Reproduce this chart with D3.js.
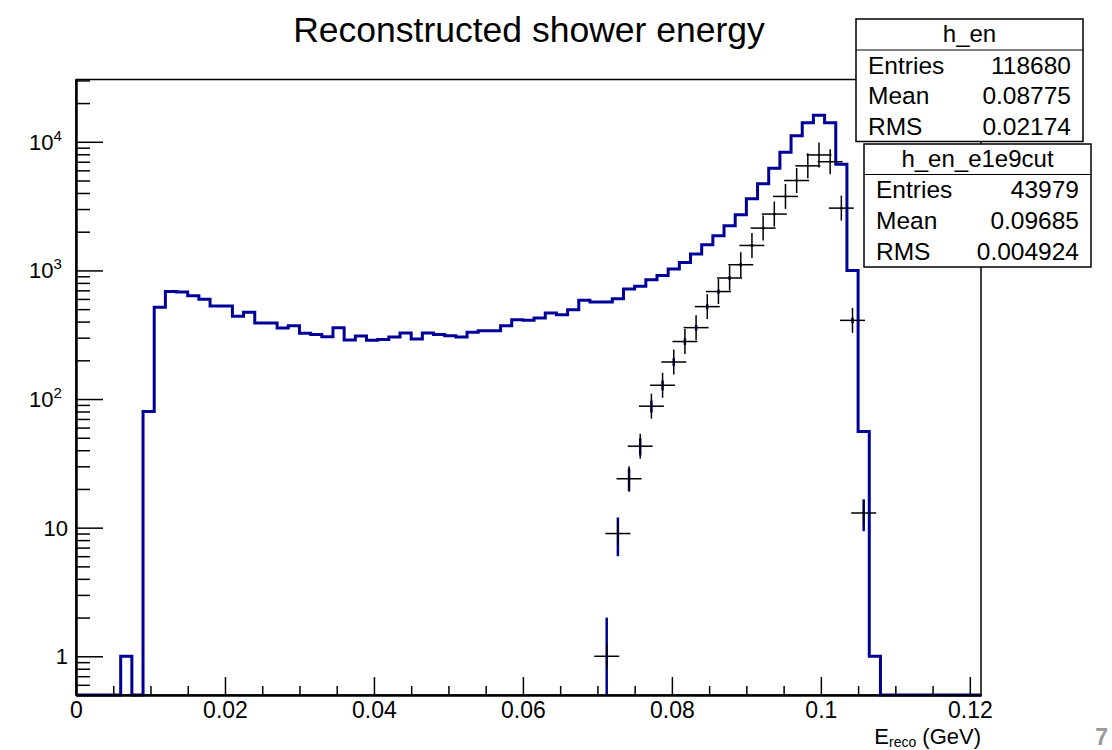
<!DOCTYPE html>
<html>
<head>
<meta charset="utf-8">
<title>Reconstructed shower energy</title>
<style type="text/css">
  body { margin: 0; background: #fff; }
  svg text { font-family: "Liberation Sans", Arial, Helvetica, sans-serif; }
</style>
</head>
<body>
<script src="https://cdn.jsdelivr.net/npm/d3@7/dist/d3.min.js"></script>
<script type="text/javascript">
  // histogram definition: 81 bins from 0 to 0.1215 GeV
  const binLo = 0;
  const binHi = 0.1215;

  // h_en, counts per bin
  const hEn = [
    0, 0, 0, 0, 1, 0, 80, 516, 685, 680,
    636, 596, 528, 528, 440, 472, 390, 390, 357, 372,
    325, 318, 305, 359, 288, 309, 286, 290, 304, 326,
    293, 326, 317, 311, 304, 330, 340, 340, 372, 414,
    410, 427, 467, 453, 495, 585, 568, 568, 603, 716,
    752, 847, 915, 1025, 1153, 1340, 1584, 1859, 2223, 2705,
    3602, 4714, 6237, 8288, 11130, 14050, 16100, 14050, 6700, 1000,
    56, 1, 0, 0, 0, 0, 0, 0, 0, 0,
    0
  ];

  // h_en_e1e9cut, counts per bin
  const hCut = [
    0, 0, 0, 0, 0, 0, 0, 0, 0, 0,
    0, 0, 0, 0, 0, 0, 0, 0, 0, 0,
    0, 0, 0, 0, 0, 0, 0, 0, 0, 0,
    0, 0, 0, 0, 0, 0, 0, 0, 0, 0,
    0, 0, 0, 0, 0, 0, 0, 1, 9, 24,
    43, 88, 128, 194, 280, 359, 523, 685, 873, 1107,
    1563, 2133, 2742, 3760, 5000, 6500, 7900, 7000, 3050, 409,
    13, 0, 0, 0, 0, 0, 0, 0, 0, 0,
    0
  ];

  const xTicks = [0, 0.02, 0.04, 0.06, 0.08, 0.1, 0.12];
  const xTickLabels = ["0", "0.02", "0.04", "0.06", "0.08", "0.1", "0.12"];
  const yTicks = [1, 10, 100, 1000, 10000];
  const yTickLabels = [["1", ""], ["10", ""], ["10", "2"], ["10", "3"], ["10", "4"]];
  const yMin = 0.5, yMax = 30500;

  const statNames = ["Entries", "Mean", "RMS"];
  const hEnStats = ["118680", "0.08775", "0.02174"];
  const hCutStats = ["43979", "0.09685", "0.004924"];

  // layout
  const w = 1112, h = 750;
  const margin = {top: 79.5, right: 131, bottom: 55, left: 76};
  const blue = "#000099";

  const svg = d3.select("body").append("svg")
    .attr("width", w).attr("height", h);

  const x = d3.scaleLinear().domain([binLo, binHi]).range([margin.left, w - margin.right]);
  const y = d3.scaleLog().domain([yMin, yMax]).range([h - margin.bottom, margin.top]).clamp(true);

  const nb = hEn.length;
  const bw = (binHi - binLo) / nb;
  const edge = i => binLo + i * bw;

  // frame
  svg.append("rect")
    .attr("x", x(binLo)).attr("y", y(yMax))
    .attr("width", x(binHi) - x(binLo)).attr("height", y(yMin) - y(yMax))
    .attr("fill", "none").attr("stroke", "#000").attr("stroke-width", 1.5);

  // blue histogram, drawn as steps
  const stepPts = hEn.map((v, i) => [edge(i), v]).concat([[binHi, hEn[nb - 1]]]);
  const line = d3.line()
    .x(d => x(d[0]))
    .y(d => y(Math.max(d[1], yMin)))
    .curve(d3.curveStepAfter);
  svg.append("path")
    .datum(stepPts)
    .attr("d", line)
    .attr("fill", "none").attr("stroke", blue).attr("stroke-width", 3);

  // second histogram: sqrt(N) errors (blue) and + markers (black)
  const pts = hCut.map((v, i) => ({c: edge(i) + bw / 2, v: v})).filter(d => d.v > 0);
  svg.selectAll("line.err").data(pts).enter().append("line")
    .attr("class", "err")
    .attr("x1", d => x(d.c)).attr("x2", d => x(d.c))
    .attr("y1", d => y(d.v + Math.sqrt(d.v)))
    .attr("y2", d => y(Math.max(d.v - Math.sqrt(d.v), yMin)))
    .attr("stroke", blue).attr("stroke-width", 2.5);

  const ms = 12.5; // half size of the + marker
  const mk = svg.selectAll("g.mk").data(pts).enter().append("g")
    .attr("class", "mk")
    .attr("transform", d => `translate(${x(d.c)},${y(d.v)})`);
  mk.append("line").attr("x1", -ms).attr("x2", ms).attr("y1", 0).attr("y2", 0)
    .attr("stroke", "#000").attr("stroke-width", 1.5);
  mk.append("line").attr("x1", 0).attr("x2", 0).attr("y1", -ms).attr("y2", ms)
    .attr("stroke", "#000").attr("stroke-width", 1.5);

  // x axis: major + minor ticks, pointing up into the frame
  const xMinor = d3.range(0, 121, 5).map(k => k / 1000).filter(v => !xTicks.some(t => Math.abs(t - v) < 1e-9));
  const xAxisG = svg.append("g").attr("transform", `translate(0,${y(yMin)})`);
  xAxisG.append("g")
    .call(d3.axisBottom(x).tickValues(xMinor).tickSize(-9).tickFormat("").tickSizeOuter(0));
  xAxisG.append("g")
    .call(d3.axisBottom(x).tickValues(xTicks).tickSize(-18).tickSizeOuter(0)
      .tickPadding(7).tickFormat((d, i) => xTickLabels[i]));
  xAxisG.selectAll("path.domain").attr("stroke-width", 2);
  xAxisG.selectAll(".tick line").attr("stroke-width", 1.5);
  xAxisG.selectAll("text").attr("font-size", 23).attr("fill", "#000")
    .attr("font-family", "Liberation Sans, Arial, sans-serif");

  // y axis (log): decades + 2..9 minors
  const yMinor = [];
  for (let d = -1; d <= 4; d++) {
    for (let k = 2; k <= 9; k++) {
      const v = k * Math.pow(10, d);
      if (v > yMin && v < yMax) yMinor.push(v);
    }
  }
  const yAxisG = svg.append("g").attr("transform", `translate(${x(binLo)},0)`);
  yAxisG.append("g")
    .call(d3.axisLeft(y).tickValues(yMinor).tickSize(-14).tickFormat("").tickSizeOuter(0));
  yAxisG.append("g")
    .call(d3.axisLeft(y).tickValues(yTicks).tickSize(-27).tickFormat("").tickSizeOuter(0));
  yAxisG.selectAll("path.domain").attr("stroke-width", 2);
  yAxisG.selectAll(".tick line").attr("stroke-width", 1.5);

  // y tick labels with superscripted exponents
  const ylab = svg.selectAll("text.ylab").data(yTicks).enter().append("text")
    .attr("class", "ylab")
    .attr("x", 68)
    .attr("y", d => y(d) + 8)
    .attr("text-anchor", "end")
    .attr("font-size", 22);
  ylab.each(function(d, i) {
    const t = d3.select(this);
    const lab = yTickLabels[i];
    if (lab[1]) {
      t.attr("x", 29).attr("text-anchor", "start");
      t.append("tspan").text(lab[0]);
      t.append("tspan").attr("dy", -9).attr("font-size", 15).text(lab[1]);
    } else {
      t.text(lab[0]);
    }
  });

  // title
  svg.append("text")
    .attr("x", 529).attr("y", 42)
    .attr("text-anchor", "middle")
    .attr("font-size", 35.5)
    .text("Reconstructed shower energy");

  // x axis title E_reco (GeV)
  const xt = svg.append("text")
    .attr("x", x(binHi)).attr("y", 744)
    .attr("text-anchor", "end")
    .attr("font-size", 22);
  xt.append("tspan").text("E");
  xt.append("tspan").attr("dy", 3).attr("font-size", 14).text("reco");
  xt.append("tspan").attr("dy", -3).text(" (GeV)");

  // stats boxes
  function statBox(bx, by, bwid, bht, sep, name, vals) {
    const g = svg.append("g");
    g.append("rect").attr("x", bx).attr("y", by).attr("width", bwid).attr("height", bht)
      .attr("fill", "#fff").attr("stroke", "#000").attr("stroke-width", 1.5);
    g.append("line").attr("x1", bx).attr("x2", bx + bwid).attr("y1", by + sep).attr("y2", by + sep)
      .attr("stroke", "#000").attr("stroke-width", 1);
    g.append("text").attr("x", bx + bwid / 2).attr("y", by + sep - 8)
      .attr("text-anchor", "middle").attr("font-size", 24).text(name);
    const rowH = (bht - sep) / 3;
    statNames.forEach((s, i) => {
      const ty = by + sep + rowH * (i + 0.5) + 8.5;
      g.append("text").attr("x", bx + 12).attr("y", ty).attr("font-size", 24.5).text(s);
      g.append("text").attr("x", bx + bwid - 12).attr("y", ty)
        .attr("text-anchor", "end").attr("font-size", 24.5).text(vals[i]);
    });
  }
  statBox(856, 19, 227, 122.5, 31, "h_en", hEnStats);
  statBox(864, 144, 227, 123, 30.5, "h_en_e1e9cut", hCutStats);

  // slide number in the corner
  svg.append("text")
    .attr("x", 1108).attr("y", 745)
    .attr("text-anchor", "end")
    .attr("font-size", 23).attr("font-weight", "bold")
    .attr("fill", "#999")
    .text("7");
</script>
</body>
</html>
